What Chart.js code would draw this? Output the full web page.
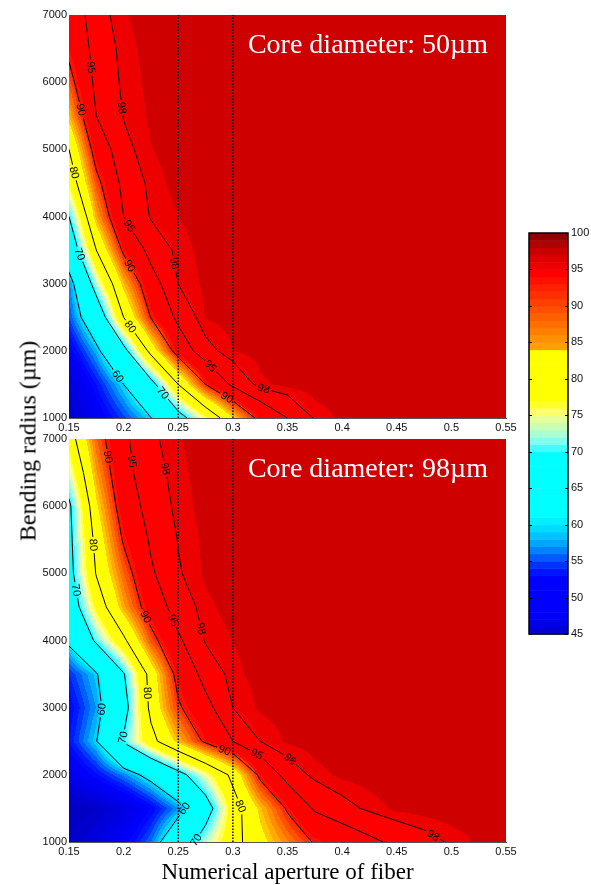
<!DOCTYPE html>
<html><head><meta charset="utf-8">
<script src="https://cdn.jsdelivr.net/npm/chart.js@4.4.1/dist/chart.umd.min.js"></script>
<style>
html,body{margin:0;padding:0;background:#fff;width:591px;height:885px;overflow:hidden;}
.wrap{position:absolute;left:0;top:0;width:591px;height:885px;}
canvas{position:absolute;left:0;top:0;}
#ytitle{position:absolute;left:28px;top:441px;transform:translate(-50%,-50%) rotate(-90deg);font:24px "Liberation Serif","Times New Roman",serif;white-space:nowrap;color:#000;}
</style></head><body>
<div class="wrap">
<canvas id="cTop" width="591" height="885"></canvas>
<canvas id="cBot" width="591" height="885"></canvas>
<canvas id="cBar" width="591" height="885"></canvas>
<div id="ytitle">Bending radius (µm)</div>
</div>
<script>
// ---------- data ----------
const apertureNA = [0.15,0.175,0.2,0.225,0.25,0.275,0.3,0.325,0.35,0.375,0.4,0.425,0.45,0.475,0.5,0.525,0.55];
const bendRadius = [1000,1500,2000,2500,3000,3500,4000,4500,5000,5500,6000,6500,7000];
// coupling efficiency (%), one row per bending radius (1000 first), one column per NA
const coupling50 = [
 [47,51.3,55.6,59.9,67.5,75.3,84,91.4,95,98.2,99.3,99.7,99.9,99.9,99.9,99.9,99.9],
 [48,54,60,67.8,80,90,95.8,98.7,99.4,99.7,99.9,99.9,99.9,99.9,99.9,99.9,99.9],
 [52,58.7,68,81.7,92.3,97.2,99,99.5,99.8,99.9,99.9,99.9,99.9,99.9,99.9,99.9,99.9],
 [56,65,80,90.2,95.9,99.1,99.5,99.8,99.9,99.9,99.9,99.9,99.9,99.9,99.9,99.9,99.9],
 [57.4,72.8,85,93.3,98,99.3,99.6,99.8,99.9,99.9,99.9,99.9,99.9,99.9,99.9,99.9,99.9],
 [65,80,90.8,96.3,98.5,99.4,99.7,99.9,99.9,99.9,99.9,99.9,99.9,99.9,99.9,99.9,99.9],
 [70,85.5,95,98.2,99,99.6,99.9,99.9,99.9,99.9,99.9,99.9,99.9,99.9,99.9,99.9,99.9],
 [76.5,88.7,96.2,98.5,99.4,99.8,99.9,99.9,99.9,99.9,99.9,99.9,99.9,99.9,99.9,99.9,99.9],
 [80,92.2,97.4,98.95,99.6,99.8,99.9,99.9,99.9,99.9,99.9,99.9,99.9,99.9,99.9,99.9,99.9],
 [85,95,98.1,99.2,99.7,99.9,99.9,99.9,99.9,99.9,99.9,99.9,99.9,99.9,99.9,99.9,99.9],
 [88.5,96,98.4,99.3,99.7,99.9,99.9,99.9,99.9,99.9,99.9,99.9,99.9,99.9,99.9,99.9,99.9],
 [91,96.4,98.6,99.4,99.8,99.9,99.9,99.9,99.9,99.9,99.9,99.9,99.9,99.9,99.9,99.9,99.9],
 [92,97.1,98.9,99.5,99.8,99.9,99.9,99.9,99.9,99.9,99.9,99.9,99.9,99.9,99.9,99.9,99.9]
];
const coupling98 = [
 [47,49,52,57,65.6,72.9,78.4,82.9,86.8,90.4,92.3,94.2,95.8,97.1,98.3,99.2,99.6],
 [46,47,49,53,58,67.1,77.8,84.7,90.5,95.5,97.2,98.4,99.3,99.6,99.8,99.9,99.9],
 [50,53.7,57.4,61.8,68,74.4,81.2,91,96.6,98.5,99.3,99.6,99.8,99.9,99.9,99.9,99.9],
 [54,59.8,70.6,78.4,85,90.8,95,98,99.2,99.6,99.8,99.9,99.9,99.9,99.9,99.9,99.9],
 [53,58.1,67.6,81.3,89.4,93.8,98,99.2,99.6,99.8,99.9,99.9,99.9,99.9,99.9,99.9,99.9],
 [55,59.5,69.6,81.9,91.6,96.3,98.7,99.4,99.7,99.9,99.9,99.9,99.9,99.9,99.9,99.9,99.9],
 [61,71,79,88.5,94.4,98.2,99,99.6,99.8,99.9,99.9,99.9,99.9,99.9,99.9,99.9,99.9],
 [66,76.8,85.6,92.4,96.7,98.7,99.5,99.8,99.9,99.9,99.9,99.9,99.9,99.9,99.9,99.9,99.9],
 [68,80.3,87.9,94.5,97.8,99.2,99.7,99.9,99.9,99.9,99.9,99.9,99.9,99.9,99.9,99.9,99.9],
 [68.5,81.5,90.5,95.5,98.1,99.3,99.7,99.9,99.9,99.9,99.9,99.9,99.9,99.9,99.9,99.9,99.9],
 [69,83.5,92.5,96.5,98.5,99.4,99.8,99.9,99.9,99.9,99.9,99.9,99.9,99.9,99.9,99.9,99.9],
 [73.5,85.8,93.8,97.1,98.7,99.5,99.8,99.9,99.9,99.9,99.9,99.9,99.9,99.9,99.9,99.9,99.9],
 [77.5,87.9,94.3,97.6,98.9,99.6,99.8,99.9,99.9,99.9,99.9,99.9,99.9,99.9,99.9,99.9,99.9]
];
const contourLevels = [60,70,80,90,95,98];
// contour label anchors: [NA, bending radius, level]
const labels50 = [
 [0.166,6211,95],[0.198,5615,98],[0.160,5585,90],[0.153,4647,80],[0.158,3427,70],
 [0.202,3829,95],[0.202,3233,90],[0.239,3278,98],[0.206,2355,80],[0.199,1670,60],
 [0.236,1372,70],[0.276,1715,95],[0.295,1313,90],[0.327,1372,98]
];
const labels98 = [
 [0.185,6732,90],[0.204,6657,95],[0.233,6538,98],[0.172,5422,80],[0.157,4752,70],
 [0.220,4350,90],[0.242,4275,95],[0.266,4156,98],[0.222,3218,80],[0.185,2965,60],
 [0.198,2563,70],[0.290,2265,90],[0.318,2190,95],[0.346,2116,98],[0.259,1476,60],
 [0.305,1520,80],[0.262,1074,70],[0.482,1060,98]
];
const markedNA = [0.25, 0.3];
const naTicks = [0.15,0.2,0.25,0.3,0.35,0.4,0.45,0.5,0.55];
const radiusTicks = [1000,2000,3000,4000,5000,6000,7000];
const colorbarTicks = [45,50,55,60,65,70,75,80,85,90,95,100];
const captions = ['Core diameter: 50µm','Core diameter: 98µm'];

// ---------- colour maps (band mid-points) ----------
const fillStops = [
 [45,[0,0,185]],[47,[0,0,200]],[50,[0,0,235]],[53,[0,0,255]],[54.5,[0,25,255]],[55.5,[0,55,255]],
 [56.5,[0,95,255]],[57.5,[0,135,255]],[58.5,[0,175,255]],[59.5,[0,210,255]],[60.5,[0,238,255]],
 [61.5,[0,255,255]],[69.5,[0,255,255]],[70.5,[60,255,255]],[71.5,[120,255,250]],[72.5,[170,255,220]],
 [73.5,[215,255,190]],[74.5,[255,255,150]],[75.5,[255,255,90]],[76.5,[255,255,0]],[83.5,[255,255,0]],
 [84.5,[255,200,0]],[85.5,[255,170,0]],[86.5,[255,140,0]],[87.5,[255,110,0]],[88.5,[255,80,0]],
 [89.5,[255,50,0]],[90.5,[255,15,0]],[91.5,[255,0,0]],[97.5,[255,0,0]],[98.5,[238,0,0]],
 [99.5,[206,0,0]],[100,[206,0,0]]
];
const cbarStops = [
 [45.5,[0,0,210]],[46.5,[0,0,230]],[47.5,[0,0,250]],[52.5,[0,0,255]],[53.5,[0,20,255]],[54.5,[0,50,255]],
 [55.5,[0,90,255]],[56.5,[0,130,255]],[57.5,[0,165,255]],[58.5,[0,195,255]],[59.5,[0,220,255]],
 [60.5,[0,240,255]],[61.5,[0,255,255]],[69.5,[0,255,255]],[70.5,[64,255,255]],[71.5,[128,255,240]],
 [72.5,[170,255,210]],[73.5,[200,255,180]],[74.5,[230,255,150]],[75.5,[255,255,110]],[76.5,[255,255,40]],
 [77.5,[255,255,0]],[83.5,[255,255,0]],[84.5,[255,160,0]],[85.5,[255,144,0]],[86.5,[255,128,0]],
 [87.5,[255,112,0]],[88.5,[255,96,0]],[89.5,[255,80,0]],[90.5,[255,64,0]],[91.5,[255,48,0]],
 [92.5,[255,32,0]],[93.5,[255,16,0]],[94.5,[255,0,0]],[95.5,[238,0,0]],[96.5,[221,0,0]],
 [97.5,[200,0,0]],[98.5,[176,0,0]],[99.5,[145,0,0]]
];
function colorAt(stops, v){
  if (v <= stops[0][0]) return stops[0][1];
  for (let k=0;k<stops.length-1;k++){
    const [a,ca]=stops[k],[b,cb]=stops[k+1];
    if (v<=b){ const t=(v-a)/(b-a); return [0,1,2].map(n=>Math.round(ca[n]+t*(cb[n]-ca[n]))); }
  }
  return stops[stops.length-1][1];
}
function bandColor(stops, v){ return colorAt(stops, Math.floor(v)+0.5); }

function locate(arr, v){
  let i=0; while(i<arr.length-2 && v>arr[i+1]) i++;
  let t=(v-arr[i])/(arr[i+1]-arr[i]); t=Math.max(0,Math.min(1,t));
  return [i,t];
}
function valueAt(grid, na, r){
  const [i,u]=locate(apertureNA,na), [j,w]=locate(bendRadius,r);
  const v00=grid[j][i], v10=grid[j][i+1], v01=grid[j+1][i], v11=grid[j+1][i+1];
  return v00*(1-u)*(1-w)+v10*u*(1-w)+v01*(1-u)*w+v11*u*w;
}
function contourSegs(grid, level, px, py){
  const segs=[];
  for(let j=0;j<py.length-1;j++) for(let i=0;i<px.length-1;i++){
    const P=[[px[i],py[j],grid[j][i]],[px[i+1],py[j],grid[j][i+1]],[px[i+1],py[j+1],grid[j+1][i+1]],[px[i],py[j+1],grid[j+1][i]]];
    const cr=[];
    for(let e=0;e<4;e++){
      const A=P[e],B=P[(e+1)%4];
      if((A[2]<level)!==(B[2]<level)){
        const t=(level-A[2])/(B[2]-A[2]);
        cr[e]=[A[0]+t*(B[0]-A[0]),A[1]+t*(B[1]-A[1])];
      }
    }
    const pts=cr.filter(Boolean);
    if(pts.length===2) segs.push(pts);
    else if(pts.length===4){
      const c=(P[0][2]+P[1][2]+P[2][2]+P[3][2])/4;
      if((c<level)===(P[0][2]<level)){segs.push([cr[0],cr[1]]);segs.push([cr[2],cr[3]]);}
      else {segs.push([cr[3],cr[0]]);segs.push([cr[1],cr[2]]);}
    }
  }
  return segs;
}

const tickFont = {family:'"Liberation Sans", Arial, sans-serif', size:11};
const serif = '"Liberation Serif","Times New Roman",serif';

function fieldPlugin(grid, labels, caption){
  return {
    id:'field',
    beforeDatasetsDraw(chart){
      const {ctx, chartArea:a, scales:{x,y}} = chart;
      const L=Math.round(a.left), T=Math.round(a.top);
      const W=Math.round(a.right)-L, H=Math.round(a.bottom)-T;
      const off=document.createElement('canvas'); off.width=W; off.height=H;
      const octx=off.getContext('2d'); const img=octx.createImageData(W,H);
      for(let j=0;j<H;j++){
        const r=y.getValueForPixel(T+j+0.5);
        for(let i=0;i<W;i++){
          const na=x.getValueForPixel(L+i+0.5);
          const c=bandColor(fillStops, valueAt(grid,na,r));
          const k=(j*W+i)*4; img.data[k]=c[0]; img.data[k+1]=c[1]; img.data[k+2]=c[2]; img.data[k+3]=255;
        }
      }
      octx.putImageData(img,0,0);
      ctx.drawImage(off,L,T);
    },
    afterDatasetsDraw(chart){
      const {ctx, chartArea:a, scales:{x,y}} = chart;
      const px=apertureNA.map(v=>x.getPixelForValue(v));
      const py=bendRadius.map(v=>y.getPixelForValue(v));
      const segsBy={};
      contourLevels.forEach(l=>segsBy[l]=contourSegs(grid,l,px,py));
      ctx.save();
      ctx.font='11px "Liberation Sans", Arial, sans-serif';
      const placed=[];
      labels.forEach(([na,r,l])=>{
        const ax=x.getPixelForValue(na), ay=y.getPixelForValue(r);
        let best=null,bd=1e9;
        (segsBy[l]||[]).forEach(([p,q])=>{
          const dx=q[0]-p[0],dy=q[1]-p[1]; const len2=dx*dx+dy*dy||1e-9;
          let t=((ax-p[0])*dx+(ay-p[1])*dy)/len2; t=Math.max(0,Math.min(1,t));
          const cx=p[0]+t*dx, cy=p[1]+t*dy; const d=(cx-ax)**2+(cy-ay)**2;
          if(d<bd){bd=d;best={cx,cy,ang:Math.atan2(dy,dx)};}
        });
        if(!best || bd>400) best={cx:ax,cy:ay,ang:0};
        let t=best.ang; if(t>Math.PI/2) t-=Math.PI; if(t<=-Math.PI/2) t+=Math.PI;
        placed.push({cx:best.cx,cy:best.cy,ang:t,text:String(l),w:ctx.measureText(String(l)).width});
      });
      ctx.beginPath();
      ctx.rect(a.left,a.top,a.right-a.left,a.bottom-a.top);
      placed.forEach(p=>{
        const c=Math.cos(p.ang),s=Math.sin(p.ang),hw=p.w/2+2,hh=5;
        const pts=[[-hw,-hh],[hw,-hh],[hw,hh],[-hw,hh]].map(([dx,dy])=>[p.cx+dx*c-dy*s,p.cy+dx*s+dy*c]);
        ctx.moveTo(pts[0][0],pts[0][1]); for(let k=1;k<4;k++) ctx.lineTo(pts[k][0],pts[k][1]); ctx.closePath();
      });
      ctx.clip('evenodd');
      ctx.strokeStyle='#000'; ctx.lineWidth=1;
      ctx.beginPath();
      contourLevels.forEach(l=>segsBy[l].forEach(([p,q])=>{ctx.moveTo(p[0],p[1]);ctx.lineTo(q[0],q[1]);}));
      ctx.stroke();
      ctx.restore();
      ctx.save();
      ctx.beginPath(); ctx.rect(a.left,a.top,a.right-a.left,a.bottom-a.top+6); ctx.clip();
      ctx.font='11px "Liberation Sans", Arial, sans-serif';
      ctx.fillStyle='#000'; ctx.textAlign='center'; ctx.textBaseline='middle';
      placed.forEach(p=>{ctx.save();ctx.translate(p.cx,p.cy);ctx.rotate(p.ang);ctx.fillText(p.text,0,0.5);ctx.restore();});
      ctx.restore();
      ctx.save();
      ctx.font='28px '+serif; ctx.fillStyle='#fff'; ctx.textAlign='right'; ctx.textBaseline='alphabetic';
      ctx.fillText(caption, a.right-18, a.top+38);
      ctx.restore();
    }
  };
}

function makePlot(id, grid, labels, caption, bottomAxis){
  return new Chart(document.getElementById(id),{
    type:'scatter',
    data:{datasets: markedNA.map(na=>({
      data:[{x:na,y:bendRadius[0]},{x:na,y:bendRadius[bendRadius.length-1]}],
      showLine:true, borderColor:'#000', borderWidth:1.4, borderDash:[1.5,1.5], pointRadius:0, fill:false
    }))},
    options:{
      responsive:false, animation:false, devicePixelRatio:1,
      layout:{padding:{left:29,right:85,top:bottomAxis?439:15,bottom:bottomAxis?0:447}},
      plugins:{legend:{display:false},tooltip:{enabled:false}},
      scales:{
        x:{type:'linear',min:0.15,max:0.55,
          grid:{display:false,drawTicks:false},border:{display:true,color:'#555',width:1},
          afterBuildTicks:s=>{s.ticks=naTicks.map(v=>({value:v}));},
          afterFit:s=>{s.height=bottomAxis?43:20;},
          ticks:{font:tickFont,color:'#111',padding:3,maxRotation:0,autoSkip:false,callback:v=>String(v)},
          title:{display:bottomAxis,text:'Numerical aperture of fiber',font:{family:serif,size:23},color:'#000',padding:{top:0,bottom:-2}}
        },
        y:{type:'linear',min:1000,max:7000,
          grid:{display:false,drawTicks:false},border:{display:false},
          afterBuildTicks:s=>{s.ticks=radiusTicks.map(v=>({value:v}));},
          afterFit:s=>{s.width=40;},
          ticks:{font:tickFont,color:'#111',padding:2,autoSkip:false,callback:v=>String(v)}
        }
      }
    },
    plugins:[fieldPlugin(grid,labels,caption)]
  });
}

makePlot('cTop', coupling50, labels50, captions[0], false);
makePlot('cBot', coupling98, labels98, captions[1], true);

new Chart(document.getElementById('cBar'),{
  type:'scatter',
  data:{datasets:[]},
  options:{
    responsive:false, animation:false, devicePixelRatio:1,
    layout:{padding:{left:529,right:0,top:233,bottom:251}},
    plugins:{legend:{display:false},tooltip:{enabled:false}},
    scales:{
      x:{display:false,min:0,max:1},
      y:{position:'right',min:45,max:100,
        grid:{display:false,drawTicks:false},border:{display:false},
        afterBuildTicks:s=>{s.ticks=colorbarTicks.map(v=>({value:v}));},
        afterFit:s=>{s.width=23;},
        ticks:{font:tickFont,color:'#111',padding:3,autoSkip:false,callback:v=>String(v)}
      }
    }
  },
  plugins:[{
    id:'cbar',
    beforeDatasetsDraw(chart){
      const {ctx,chartArea:a,scales:{y}}=chart;
      for(let v=45; v<100; v++){
        const c=bandColor(cbarStops,v+0.01);
        const y0=y.getPixelForValue(v+1), y1=y.getPixelForValue(v);
        ctx.fillStyle=`rgb(${c[0]},${c[1]},${c[2]})`;
        ctx.fillRect(a.left, y0, a.right-a.left, y1-y0+0.5);
      }
      ctx.strokeStyle='#000'; ctx.lineWidth=1.5;
      ctx.strokeRect(a.left,a.top,a.right-a.left,a.bottom-a.top);
      ctx.lineWidth=1;
      ctx.beginPath();
      colorbarTicks.forEach(v=>{const yy=Math.round(y.getPixelForValue(v))+0.5;
        ctx.moveTo(a.left,yy);ctx.lineTo(a.left+3,yy);ctx.moveTo(a.right-3,yy);ctx.lineTo(a.right,yy);});
      ctx.stroke();
    }
  }]
});
</script>
</body></html>
